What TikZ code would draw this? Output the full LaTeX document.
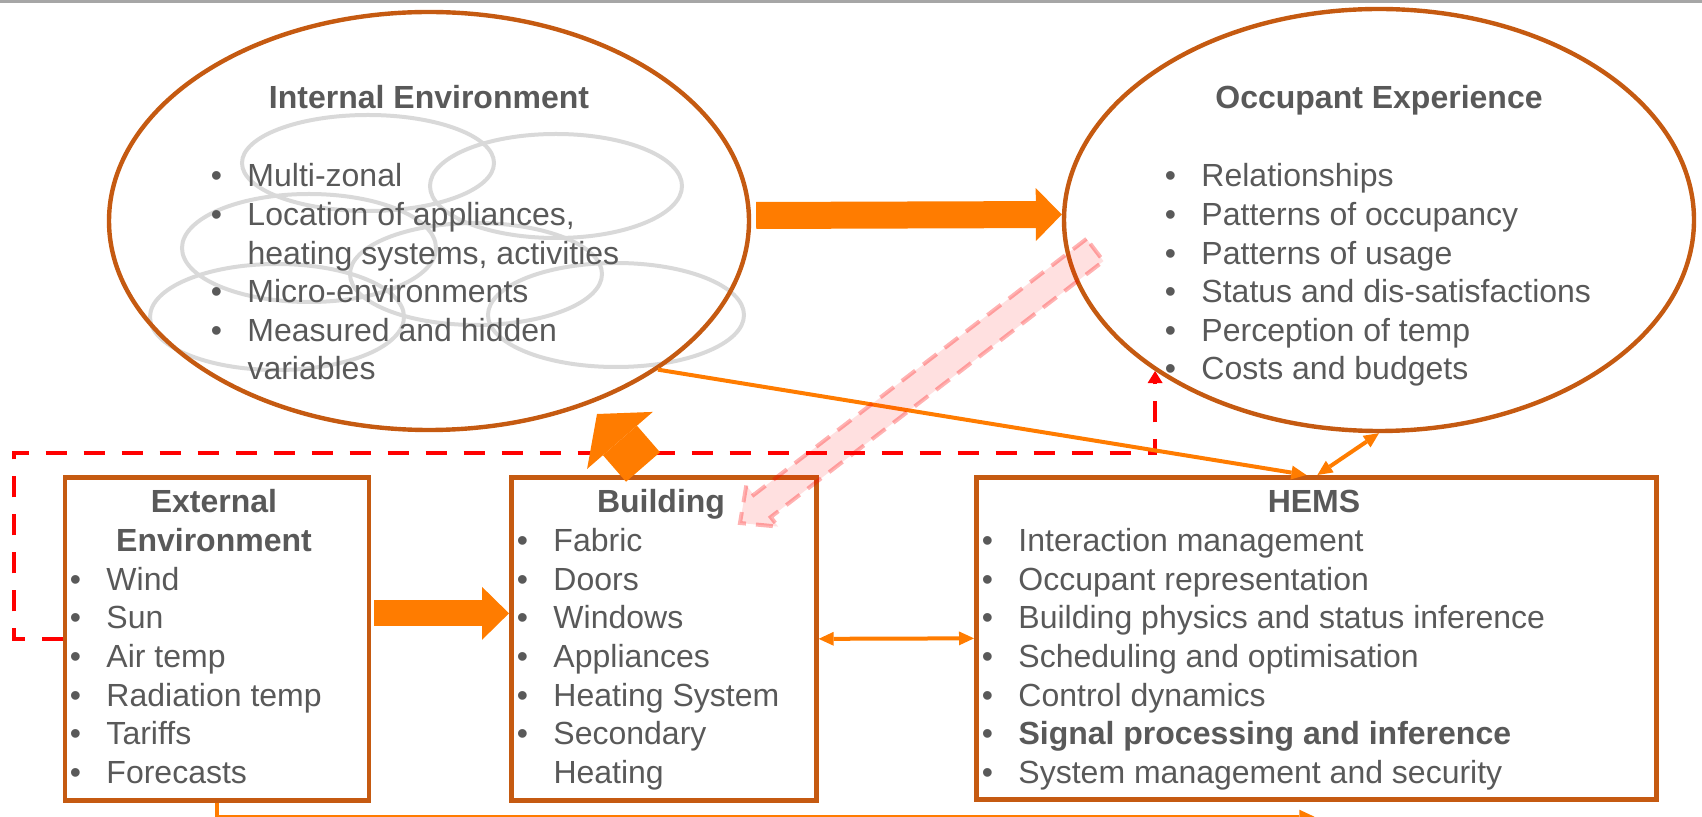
\documentclass[tikz,border=0pt]{standalone}
\usepackage{fontspec}
\setmainfont{Liberation Sans}
\usetikzlibrary{arrows.meta,calc,shapes.geometric}
\definecolor{txtgray}{RGB}{89,89,89}
\definecolor{brd}{RGB}{197,90,17}
\definecolor{org}{RGB}{255,124,0}
\definecolor{lgray}{RGB}{217,217,217}
\definecolor{topgray}{RGB}{166,166,166}
\newcommand{\mybul}{\makebox[18.3pt][l]{\textbullet}}
\newcommand{\mynob}{\hspace*{18.3pt}}
\begin{document}
\begin{tikzpicture}[x=0.5pt,y=-0.5pt,
  txt/.style={font=\fontsize{16pt}{19.3pt}\selectfont, text=txtgray, inner sep=0pt, anchor=base west},
  ttl/.style={font=\fontsize{16pt}{19.3pt}\selectfont\bfseries, text=txtgray, inner sep=0pt, anchor=base},
  bigell/.style={ellipse, draw=brd, line width=2.2pt, inner sep=0pt},
  boxx/.style={draw=brd, line width=2.35pt, inner sep=0pt, anchor=north west},
  zone/.style={draw=lgray, line width=2pt},
  conn/.style={draw=org, line width=2pt},
  ahead/.style={-{Triangle[length=7.5pt,width=7pt,line width=0pt]}},
  ahead2/.style={{Triangle[length=7.5pt,width=7pt,line width=0pt]}-{Triangle[length=7.5pt,width=7pt,line width=0pt]}},
  reddash/.style={draw=red, line width=2.35pt, dash pattern=on 10.5pt off 8.5pt},
  pinkarr/.style={draw=red, draw opacity=0.3, fill=red, fill opacity=0.12, line width=2pt, dash pattern=on 8.5pt off 5pt},
]
\useasboundingbox (0,0) rectangle (1702,817);
\fill[topgray] (0,0) rectangle (1702,3.5);

% grey zone ellipses
\foreach \cx/\cy/\rx/\ry in {368/163/63/24, 556/186/63/26, 309/248/63.5/27, 476/274/63/25.5, 277/317/63.5/26.5, 616/315/64/26}
  \draw[zone] (\cx,\cy) ellipse [x radius=\rx pt, y radius=\ry pt];

% main shapes
\node[bigell, minimum width=320pt, minimum height=209pt] (ie) at (429,221) {};
\node[bigell, minimum width=315pt, minimum height=211pt] (oe) at (1379,220) {};
\node[boxx, minimum width=152pt, minimum height=161.5pt] (ext) at (62.5,475) {};
\node[boxx, minimum width=152.5pt, minimum height=161.5pt] (bldg) at (509,475) {};
\node[boxx, minimum width=340pt, minimum height=161pt] (hems) at (974,475) {};

% titles
\node[ttl] (ie-t) at (429,109) {Internal Environment};
\node[ttl] (oe-t) at (1379,109) {Occupant Experience};
\node[ttl] (ext-t1) at (214,513) {External};
\node[ttl] (ext-t2) at (214,551.6) {Environment};
\node[ttl] (bldg-t) at (661,513) {Building};
\node[ttl] (hems-t) at (1314,513) {HEMS};

% lists
\foreach \t [count=\i from 0] in {{\mybul Multi-zonal},{\mybul Location of appliances,},{\mynob heating systems, activities},{\mybul Micro-environments},{\mybul Measured and hidden},{\mynob variables}}
  \node[txt] (ie-\i) at (210.5,{187+38.6*\i}) {\t};
\foreach \t [count=\i from 0] in {{\mybul Relationships},{\mybul Patterns of occupancy},{\mybul Patterns of usage},{\mybul Status and dis-satisfactions},{\mybul Perception of temp},{\mybul Costs and budgets}}
  \node[txt] (oe-\i) at (1164.5,{187+38.6*\i}) {\t};
\foreach \t [count=\i from 2] in {{\mybul Wind},{\mybul Sun},{\mybul Air temp},{\mybul Radiation temp},{\mybul Tariffs},{\mybul Forecasts}}
  \node[txt] (ext-\i) at (69.5,{513+38.6*\i}) {\t};
\foreach \t [count=\i from 1] in {{\mybul Fabric},{\mybul Doors},{\mybul Windows},{\mybul Appliances},{\mybul Heating System},{\mybul Secondary},{\mynob Heating}}
  \node[txt] (bldg-\i) at (516.5,{513+38.6*\i}) {\t};
\foreach \t [count=\i from 1] in {{\mybul Interaction management},{\mybul Occupant representation},{\mybul Building physics and status inference},{\mybul Scheduling and optimisation},{\mybul Control dynamics},{\mybul\textbf{Signal processing and inference}},{\mybul System management and security}}
  \node[txt] (hems-\i) at (981.5,{513+38.6*\i}) {\t};

% red dashed feedback
\coordinate (rt) at (oe.214);
\draw[reddash, -{Triangle[length=6pt,width=7.5pt,line width=0pt]}] (ext.west) -- ++(-48.5,0) |- (rt |- 0,453) -- (rt);

% block arrows
\draw[org, line width=13.5pt, -{Triangle[length=13pt,width=26.5pt,line width=0pt]}] ([xshift=2.5pt,yshift=2.75pt]ie.east) -- ([yshift=2.75pt]oe.west);
\draw[org, line width=13pt, -{Triangle[length=13.5pt,width=26.5pt,line width=0pt]}] ([xshift=1.5pt,yshift=12.75pt]ext.east) -- ([yshift=12.75pt]bldg.west);
\coordinate (a3t) at (643,467);
\coordinate (a3h) at (597,414);
\draw[org, line width=22.5pt, -{Triangle[length=17.5pt,width=43.5pt,line width=0pt]}] (a3t) -- (a3h);

% thin connectors
\draw[conn, ahead] (ie.327) -- ([xshift=-5pt]hems.north);
\draw[conn, ahead2] ([xshift=0.5pt]hems.north) -- (oe.south);
\draw[conn, ahead2] (bldg.east) -- (hems.west);
\draw[conn, ahead] (ext.south) |- ($(hems.south)+(-2,15)$);

% pink translucent arrow
\filldraw[pinkarr] (1086.5,238.9) -- (753.7,494.9) -- (746.3,485.4) -- (740,523) -- (778.1,526.6) -- (770.7,517.1) -- (1103.5,261.1) -- cycle;
\end{tikzpicture}
\end{document}
